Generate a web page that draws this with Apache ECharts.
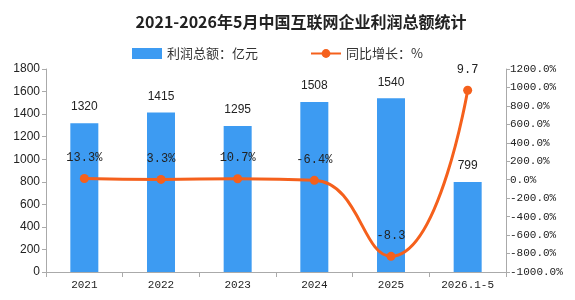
<!DOCTYPE html>
<html><head><meta charset="utf-8">
<script src="https://cdn.jsdelivr.net/npm/echarts@6/dist/echarts.min.js"></script>
<style>html,body{margin:0;padding:0;background:#fff}#c{width:575px;height:300px}</style>
</head><body><div id="c"></div>
<script>
const categories = ['2021','2022','2023','2024','2025','2026.1-5'];
const profit = [1320, 1415, 1295, 1508, 1540, 799];
const growthPlotted = [13.3, 3.3, 10.7, -6.4, -830, 970];
const growthLabels = ['13.3%', '3.3%', '10.7%', '-6.4%', '-8.3', '9.7'];
const leftTicks = {min: 0, max: 1800, interval: 200};
const rightTicks = {min: -1000, max: 1200, interval: 200};

const mono = '"Liberation Mono","DejaVu Sans Mono",monospace';
const sans = '"Liberation Sans", sans-serif';
const chart = echarts.init(document.getElementById('c'));
chart.setOption({
  animation: false,
  title: {
    text: '2021-2026年5月中国互联网企业利润总额统计',
    left: 296, textAlign: 'center', top: 9,
    textStyle: {fontSize: 16, fontWeight: 'bold', color: '#222', fontFamily: '"Noto Sans CJK SC",sans-serif'}
  },
  legend: {
    top: 42, left: 127, itemGap: 52, itemWidth: 30, itemHeight: 11,
    textStyle: {fontSize: 13, color: '#333', fontFamily: '"Noto Sans CJK SC",sans-serif'},
    data: [
      {name: '利润总额：亿元', icon: 'rect'},
      {name: '同比增长：%'}
    ]
  },
  grid: {left: 46, right: 69, top: 69, bottom: 28},
  xAxis: {
    type: 'category', data: categories,
    axisLine: {lineStyle: {color: '#aaa'}},
    axisTick: {show: true, alignWithLabel: false, length: 5, lineStyle: {color: '#aaa'}},
    axisLabel: {color: '#222', fontSize: 11, fontFamily: mono, margin: 8}
  },
  yAxis: [
    {
      type: 'value', min: leftTicks.min, max: leftTicks.max, interval: leftTicks.interval,
      splitLine: {show: false},
      axisLine: {show: true, lineStyle: {color: '#aaa'}},
      axisTick: {show: true, length: 4, lineStyle: {color: '#aaa'}},
      axisLabel: {color: '#222', fontSize: 12, margin: 6, fontFamily: sans, formatter: v => String(v)}
    },
    {
      type: 'value', min: rightTicks.min, max: rightTicks.max, interval: rightTicks.interval,
      splitLine: {show: false},
      axisLine: {show: true, lineStyle: {color: '#aaa'}},
      axisTick: {show: true, length: 4, lineStyle: {color: '#aaa'}},
      axisLabel: {color: '#222', fontSize: 11, margin: 4, fontFamily: mono,
        formatter: v => v.toFixed(1) + '%'}
    }
  ],
  series: [
    {
      name: '利润总额：亿元', type: 'bar', data: profit, barWidth: 28,
      itemStyle: {color: '#3d9bf2'},
      label: {show: true, position: 'top', distance: 10, color: '#222', fontSize: 12, fontFamily: sans}
    },
    {
      name: '同比增长：%', type: 'line', yAxisIndex: 1, data: growthPlotted,
      smooth: 0.5, symbol: 'circle', symbolSize: 9,
      lineStyle: {color: '#f5601c', width: 3},
      itemStyle: {color: '#f5601c'},
      label: {show: true, position: 'top', distance: 10, color: '#222', fontSize: 12, fontFamily: mono,
        formatter: p => growthLabels[p.dataIndex]}
    }
  ]
});
</script></body></html>
